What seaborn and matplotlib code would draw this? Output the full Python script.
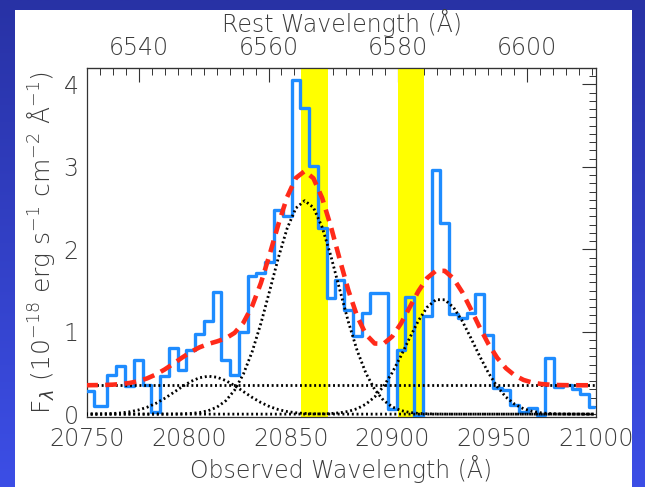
import numpy as np
import pandas as pd
import matplotlib
matplotlib.use("Agg")
import matplotlib.pyplot as plt
from matplotlib.patches import Rectangle
from matplotlib.ticker import MultipleLocator
import seaborn as sns

# ---------------- data ----------------
obs_wavelength = [
    20749.5, 20757.5,
    20762.3, 20766.6, 20770.9, 20775.2, 20779.5, 20783.8, 20788.1, 20792.4, 20796.7, 20801.0,
    20805.3, 20809.6, 20813.9, 20818.2, 20822.5, 20826.8, 20831.1, 20835.4, 20839.7, 20844.0,
    20848.3, 20852.6, 20856.9, 20861.2, 20865.5, 20869.8, 20874.1, 20878.4, 20882.7, 20887.0,
    20891.3, 20895.6, 20899.9, 20904.2, 20908.5, 20912.8, 20917.1, 20921.4, 20925.7, 20930.0,
    20934.3, 20938.6, 20942.9, 20947.2, 20951.5, 20955.8, 20960.1, 20964.4, 20968.7, 20973.0,
    20977.3, 20981.6, 20985.9, 20990.2, 20994.5, 20998.8,
]
flux = [
    0.28, 0.10,
    0.48, 0.58, 0.34, 0.66, 0.35, 0.03, 0.46, 0.80, 0.54, 0.78,
    0.97, 1.13, 1.48, 0.66, 0.47, 1.00, 1.68, 1.71, 1.85, 2.48,
    2.40, 4.06, 3.71, 3.01, 2.26, 1.41, 1.63, 1.26, 0.95, 1.23,
    1.47, 1.47, 0.06, 0.78, 1.42, -0.02, 1.19, 2.96, 2.32, 1.22,
    1.17, 1.23, 1.46, 0.96, 0.32, 0.29, 0.11, 0.03, 0.08, -0.01,
    0.68, 0.33, 0.35, 0.31, 0.24, 0.09,
]

# Gaussian fit components ([NII]6548, H-alpha, [NII]6583)
line_centers = [20810.0, 20857.0, 20923.5]
line_peaks = [0.46, 2.59, 1.40]
line_sigma = 16.5
continuum = 0.35

# masked sky-line regions (observed wavelength)
sky_band_lo = [20855.1, 20902.9]
sky_band_hi = [20868.2, 20915.7]

redshift_factor = 3.1767  # 1 + z
x_ticks = [20750, 20800, 20850, 20900, 20950, 21000]
rest_ticks = [6540, 6560, 6580, 6600]
y_ticks = [0, 1, 2, 3, 4]

# ---------------- style ----------------
sns.set_style("white")
plt.rcParams["font.family"] = ["DejaVu Sans"]
plt.rcParams["font.weight"] = "light"
plt.rcParams["mathtext.fontset"] = "dejavusans"
text_color = "#3c3c3c"
FW = "light"

W, H = 645, 487
fig = plt.figure(figsize=(W / 100, H / 100), dpi=100)

# slide background (blue gradient) and white panel
bg = fig.add_axes([0, 0, 1, 1], zorder=-5)
top_c = np.array([40, 50, 165]) / 255
bot_c = np.array([60, 78, 230]) / 255
t = np.linspace(0, 1, 256)[:, None]
grad = (top_c[None, :] * (1 - t) + bot_c[None, :] * t)[:, None, :]
bg.imshow(grad, extent=[0, W, H, 0], aspect="auto")
bg.add_patch(Rectangle((15, 10), 617, 480, facecolor="white", edgecolor="none"))
bg.set_xlim(0, W)
bg.set_ylim(H, 0)
bg.axis("off")

ax = fig.add_axes([87 / W, 1 - 417 / H, 509 / W, 349 / H], zorder=1)
ax.set_facecolor("white")

df = pd.DataFrame({"wavelength": obs_wavelength, "flux": flux})
wl = np.array(obs_wavelength)

# yellow sky bands
for lo, hi in zip(sky_band_lo, sky_band_hi):
    ax.axvspan(lo, hi, color="#ffff00", lw=0, zorder=0.5)

# observed spectrum (histogram style)
sns.lineplot(data=df, x="wavelength", y="flux", drawstyle="steps-mid",
             color="#1e8cff", lw=2.4, ax=ax, zorder=3, estimator=None)

# individual components (dotted)
components = []
for c, p in zip(line_centers, line_peaks):
    g = p * np.exp(-0.5 * ((wl - c) / line_sigma) ** 2)
    components.append(g)
    sns.lineplot(x=wl, y=g, color="black", lw=2.0, linestyle=(0, (0.7, 1.0)),
                 ax=ax, zorder=4, estimator=None)
ax.axhline(continuum, color="black", lw=2.0, linestyle=(0, (0.7, 1.0)), zorder=4)

# total model (red dashed)
model = continuum + np.sum(components, axis=0)
sns.lineplot(x=wl, y=model, color="#ff2a1a", lw=3.3, linestyle=(0, (2.6, 1.6)),
             ax=ax, zorder=5, estimator=None)

ax.set_xlim(20750, 21000)
ax.set_ylim(-0.035, 4.2)
ax.set_xticks(x_ticks)
ax.set_yticks(y_ticks)
ax.xaxis.set_minor_locator(MultipleLocator(10))
ax.yaxis.set_minor_locator(MultipleLocator(0.1))
ax.tick_params(which="both", direction="in", top=False, right=True,
               colors="#333333", labelcolor=text_color, labelsize=17)
ax.tick_params(which="major", length=10, width=0.8)
ax.tick_params(which="minor", length=5, width=0.7)
ax.tick_params(axis="x", pad=7)
ax.tick_params(axis="y", pad=6)
for lab in ax.get_xticklabels() + ax.get_yticklabels():
    lab.set_fontweight(FW)
for s in ax.spines.values():
    s.set_color("#333333")
    s.set_linewidth(0.9)

ax.set_xlabel("Observed Wavelength (Å)", fontsize=17, color=text_color,
              labelpad=3, fontweight=FW)
ax.set_ylabel(r"F$_\lambda$ (10$^{-18}$ erg s$^{-1}$ cm$^{-2}$ Å$^{-1}$)",
              fontsize=18, color=text_color, labelpad=5, fontweight=FW)

secax = ax.secondary_xaxis("top", functions=(lambda x: x / redshift_factor,
                                             lambda x: x * redshift_factor))
secax.set_xticks(rest_ticks)
secax.xaxis.set_minor_locator(MultipleLocator(2))
secax.tick_params(which="both", direction="in", colors="#333333",
                  labelcolor=text_color, labelsize=17, pad=6)
secax.tick_params(which="major", length=10, width=0.8)
secax.tick_params(which="minor", length=5, width=0.7)
for lab in secax.get_xticklabels():
    lab.set_fontweight(FW)
secax.spines["top"].set_color("#333333")
secax.set_xlabel("Rest Wavelength (Å)", fontsize=17, color=text_color,
                 labelpad=2.5, fontweight=FW)

fig.savefig("out.png", dpi=100)
